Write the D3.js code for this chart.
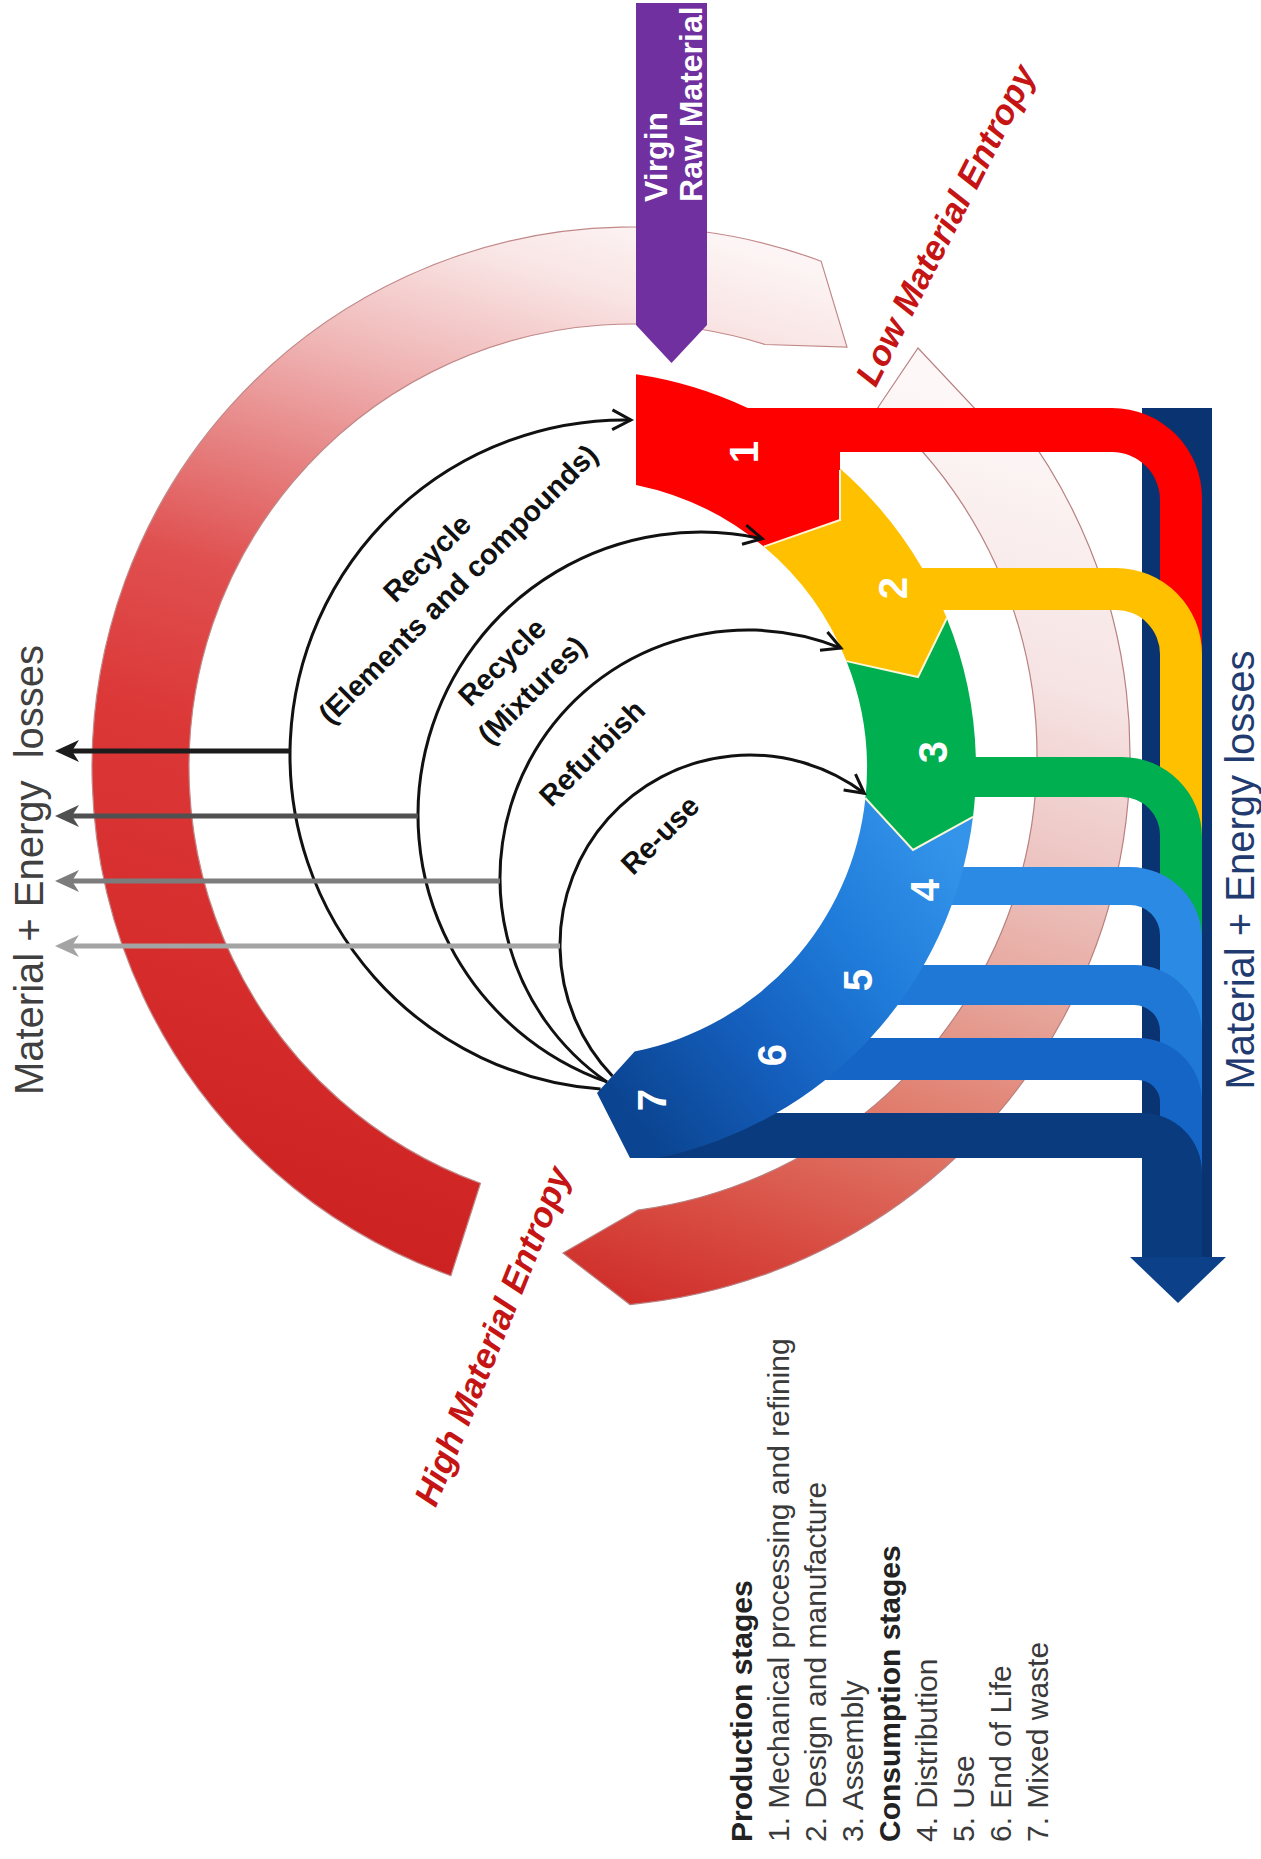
<!DOCTYPE html>
<html>
<head>
<meta charset="utf-8">
<title>Material entropy cycle</title>
<script src="https://d3js.org/d3.v7.min.js"></script>
<style>
  html,body{margin:0;padding:0;background:#fff;}
  svg{display:block;}
</style>
</head>
<body>
<svg id="chart" width="1261" height="1859" viewBox="0 0 1261 1859"></svg>
<script>
// ---------------- DATA ----------------
const stageNumbers = ["1","2","3","4","5","6","7"];
const productionStages = ["Mechanical processing and refining","Design and manufacture","Assembly"];
const consumptionStages = ["Distribution","Use","End of Life","Mixed waste"];
const stageGroups = ["Production stages","Consumption stages"];
const loopLabels = [["Recycle","(Elements and compounds)"],["Recycle","(Mixtures)"],["Refurbish"],["Re-use"]];
const lossLabels = ["Material + Energy  losses","Material + Energy losses"];
const entropyLabels = ["Low Material Entropy","High Material Entropy"];
const sourceLabel = ["Virgin","Raw Material"];

// ---------------- STYLE ----------------
const FONT = "'Liberation Sans', Arial, Helvetica, sans-serif";
const stageColors = ["#ff0000","#ffc000","#00b050","#2b8ae4","#1f78d6","#1565c6","#0a3b7e"];
const lossColors = ["#1c1c1c","#505050","#7c7c7c","#a4a4a4"];
const entropyColor = "#c41414";

// ---------------- LAYOUT ----------------
const svg = d3.select("#chart").attr("font-family", FONT);
const defs = svg.append("defs");
const deg = d3.scaleLinear().domain([0,180]).range([0,Math.PI]);
const C = {x:578, y:768}, Ri = 289, Ro = 398;              // stage ring
const P = (r,a) => [C.x + r*Math.cos(deg(a)), C.y + r*Math.sin(deg(a))];
const angY = (r,y) => Math.asin((y-C.y)/r)*180/Math.PI;
const angX = (r,x) => -Math.acos((x-C.x)/r)*180/Math.PI;
const VX0 = 1160, VX1 = 1202, V7X0 = 1142, YEND = 1257;   // vertical channel
const bars = [
  {y0:408,  y1:452,  ro:90},
  {y0:568,  y1:610,  ro:86},
  {y0:757,  y1:797,  ro:80},
  {y0:867,  y1:905,  ro:72, x:905},
  {y0:965,  y1:1005, ro:68, x:855},
  {y0:1038, y1:1080, ro:64, x:785},
  {y0:1113, y1:1158, ro:60, x:645}
];

// gradients
function linGrad(id, x1,y1,x2,y2, stops){
  const g = defs.append("linearGradient").attr("id",id).attr("gradientUnits","userSpaceOnUse")
    .attr("x1",x1).attr("y1",y1).attr("x2",x2).attr("y2",y2);
  stops.forEach(s => g.append("stop").attr("offset",s[0]).attr("stop-color",s[1]));
}
linGrad("ringA", 760,250, 450,1270, [[0,"#fdf5f5"],[0.08,"#f9e4e4"],[0.2,"#f0b6b6"],[0.32,"#e68080"],[0.43,"#e05050"],[0.58,"#dc3838"],[0.8,"#d62c2c"],[1,"#cc2222"]]);
linGrad("ringB", 900,380, 600,1300, [[0,"#fdf7f7"],[0.25,"#f6e3e3"],[0.42,"#edc6c3"],[0.58,"#e6a398"],[0.72,"#e07c6c"],[0.88,"#d84c42"],[1,"#cf2c28"]]);
linGrad("blueRing", 960,850, 630,1110, [[0,"#3494ea"],[0.35,"#1f7bd9"],[0.65,"#1560bf"],[1,"#0b4592"]]);

// ---------------- ENTROPY RINGS ----------------
const A = {x:632, y:767}, rAi = 443, rAo = 540;
const PA = (r,a) => [A.x + r*Math.cos(deg(a)), A.y + r*Math.sin(deg(a))];
let p = d3.path();
p.moveTo(...PA(rAo,109.6));
p.arc(A.x, A.y, rAo, deg(109.6), deg(290.5), false);
p.lineTo(847,347);
p.lineTo(...PA(rAi,287.5));
p.arc(A.x, A.y, rAi, deg(287.5), deg(110), true);
p.closePath();
svg.append("path").attr("d",p.toString()).attr("fill","url(#ringA)").attr("stroke","#c28888").attr("stroke-width",1.2);

const B = {x:578, y:755}, rBi = 459, rBo = 552;
const PB = (r,a) => [B.x + r*Math.cos(deg(a)), B.y + r*Math.sin(deg(a))];
p = d3.path();
p.moveTo(...PB(rBi,82.5));
p.lineTo(563,1253);
p.lineTo(...PB(rBo,84.6));
p.arc(B.x, B.y, rBo, deg(84.6), deg(-37), true);
p.lineTo(978,412);
p.lineTo(918,348);
p.lineTo(...PB(rBi,-49.2));
p.arc(B.x, B.y, rBi, deg(-49.2), deg(82.5), false);
p.closePath();
svg.append("path").attr("d",p.toString()).attr("fill","url(#ringB)").attr("stroke","#b88080").attr("stroke-width",1.2);

// ---------------- VIRGIN RAW MATERIAL ARROW ----------------
svg.append("path").attr("d","M636,3H707V325L671.5,363L636,325Z").attr("fill","#7030a0");
sourceLabel.forEach((t,i) => {
  svg.append("text").attr("transform",`translate(${[667,702][i]},202) rotate(-90)`)
    .attr("font-size",32).attr("font-weight","bold").attr("fill","#fff").text(t);
});

// ---------------- OUTPUT CHANNEL ----------------
svg.append("rect").attr("x",V7X0).attr("y",408).attr("width",1212-V7X0).attr("height",YEND-408).attr("fill","#0a3371");
svg.append("path").attr("d",`M1130,${YEND}H1226L1178,1303Z`).attr("fill","#0c418a");

// ---------------- STAGE BLOCKS + BARS ----------------
function tail(p, b, vx0, ri, xBack){
  p.arcTo(VX1, b.y0, VX1, YEND, b.ro);
  p.lineTo(VX1, YEND);
  p.lineTo(vx0, YEND);
  if (ri > 0) p.arcTo(vx0, b.y1, xBack, b.y1, ri); else p.lineTo(vx0, b.y1);
}
// stage 1 (red)
p = d3.path();
const aLo = angX(Ro,636), aLi = angX(Ri,636);
p.moveTo(...P(Ro,aLo));
p.arc(C.x,C.y,Ro,deg(aLo),deg(angY(Ro,bars[0].y0)),false);
tail(p, bars[0], VX0, bars[0].ro-(VX1-VX0), 840);
p.lineTo(840,bars[0].y1); p.lineTo(840,520);
p.lineTo(...P(Ri,-50));
p.arc(C.x,C.y,Ri,deg(-50),deg(aLi),true);
p.closePath();
svg.append("path").attr("d",p.toString()).attr("fill",stageColors[0]);

// stage 2 (yellow)
p = d3.path();
const a2 = angX(Ro,840);
p.moveTo(...P(Ro,a2));
p.arc(C.x,C.y,Ro,deg(a2),deg(angY(Ro,bars[1].y0)),false);
tail(p, bars[1], VX0, bars[1].ro-(VX1-VX0), 900);
p.lineTo(...P(Ro,angY(Ro,bars[1].y1)));
p.arc(C.x,C.y,Ro,deg(angY(Ro,bars[1].y1)),deg(-22.1),false);
p.lineTo(918,677);
p.lineTo(...P(Ri,-21.7));
p.arc(C.x,C.y,Ri,deg(-21.7),deg(-50),true);
p.lineTo(840,520);
p.closePath();
svg.append("path").attr("d",p.toString()).attr("fill",stageColors[1]);

// stage 3 (green)
p = d3.path();
p.moveTo(...P(Ro,-22.1));
p.arc(C.x,C.y,Ro,deg(-22.1),deg(angY(Ro,bars[2].y0)),false);
tail(p, bars[2], VX0, bars[2].ro-(VX1-VX0), 900);
p.lineTo(...P(Ro,angY(Ro,bars[2].y1)));
p.arc(C.x,C.y,Ro,deg(angY(Ro,bars[2].y1)),deg(7.07),false);
p.lineTo(913,850);
p.lineTo(...P(Ri,6));
p.arc(C.x,C.y,Ri,deg(6),deg(-21.7),true);
p.lineTo(918,677);
p.closePath();
svg.append("path").attr("d",p.toString()).attr("fill",stageColors[2]);

// bars 4-7
bars.slice(3).forEach((b,i) => {
  const k = i+3;
  const vx0 = k === 6 ? V7X0 : VX0;
  const ri = k === 6 ? 0 : b.ro-(VX1-VX0);
  const q = d3.path();
  q.moveTo(b.x, b.y0);
  tail(q, b, vx0, ri, b.x);
  q.lineTo(b.x, b.y1);
  q.closePath();
  svg.append("path").attr("d",q.toString()).attr("fill",stageColors[k]);
});

// stages 4-7 (blue ring segment)
p = d3.path();
const T2 = P(Ri,78.7), T1 = [597,1093];
p.moveTo(...P(Ri,6));
p.lineTo(913,850);
p.lineTo(...P(Ro,7.07));
p.arc(C.x,C.y,Ro,deg(7.07),deg(angY(Ro,1158)),false);
p.lineTo(630,1158);
p.lineTo(...T1);
p.lineTo(...T2);
p.arc(C.x,C.y,Ri,deg(78.7),deg(6),true);
p.closePath();
svg.append("path").attr("d",p.toString()).attr("fill","url(#blueRing)");

// light seams between stages
const seam = d3.line();
[[P(Ri,-50),[840,520],[840,470]],[P(Ri,-21.7),[918,677],P(Ro,-22.1)],[P(Ri,6),[913,850],P(Ro,7.07)]]
  .forEach(s => svg.append("path").attr("d",seam(s)).attr("fill","none").attr("stroke","#fbf7d6").attr("stroke-width",2));

// stage numbers
const numPos = [[744,452],[893,588],[933,752],[925,890],[858,980],[772,1055],[652,1100]];
stageNumbers.forEach((n,i) => {
  svg.append("text").attr("transform",`translate(${numPos[i][0]},${numPos[i][1]}) rotate(-90)`)
    .attr("text-anchor","middle").attr("dominant-baseline","central")
    .attr("font-size",40).attr("font-weight","bold").attr("fill","#fff").text(n);
});

// ---------------- RECYCLE LOOPS ----------------
const loops = [
  {cx:625, cy:755, r:335, a1:271},
  {cx:701, cy:815, r:283, a1:282.5},
  {cx:748, cy:878, r:248, a1:292},
  {cx:750, cy:945, r:190, a1:307}
];
const side = pt => (T2[0]-T1[0])*(pt[1]-T1[1]) - (T2[1]-T1[1])*(pt[0]-T1[0]);
const lossY = d3.scalePoint().domain(d3.range(loops.length)).range([751,946]);
loops.forEach((L,i) => {
  const pt = a => [L.cx + L.r*Math.cos(deg(a)), L.cy + L.r*Math.sin(deg(a))];
  let lo = 85, hi = 180;
  for (let k=0;k<40;k++){ const m=(lo+hi)/2; if (side(pt(m))>0) lo=m; else hi=m; }
  const q = d3.path();
  q.moveTo(...pt(hi));
  q.arc(L.cx, L.cy, L.r, deg(hi), deg(L.a1), false);
  svg.append("path").attr("d",q.toString()).attr("fill","none").attr("stroke","#111").attr("stroke-width",3);
  // open arrowhead
  const E = pt(L.a1), f = [-Math.sin(deg(L.a1)), Math.cos(deg(L.a1))];
  const wing = s => { const c=Math.cos(deg(28*s)), sn=Math.sin(deg(28*s));
    const v=[f[0]*c - f[1]*sn, f[0]*sn + f[1]*c]; return [E[0]-21*v[0], E[1]-21*v[1]]; };
  svg.append("path").attr("d",d3.line()([wing(1),E,wing(-1)])).attr("fill","none")
    .attr("stroke","#111").attr("stroke-width",3).attr("stroke-linejoin","miter");
  // loss arrow
  const y = lossY(i);
  const xs = L.cx - Math.sqrt(L.r*L.r - (y-L.cy)*(y-L.cy));
  svg.append("line").attr("x1",xs).attr("y1",y).attr("x2",72).attr("y2",y)
    .attr("stroke",lossColors[i]).attr("stroke-width",5);
  svg.append("path").attr("d",`M55,${y}L79,${y-11}L72,${y}L79,${y+11}Z`).attr("fill",lossColors[i]);
});

// loop labels
const loopPos = [[[427,558],[458,584]],[[502,662],[532,690]],[[592,753]],[[660,835]]];
loopLabels.forEach((lines,i) => lines.forEach((t,j) => {
  svg.append("text").attr("transform",`translate(${loopPos[i][j][0]},${loopPos[i][j][1]}) rotate(-45)`)
    .attr("text-anchor","middle").attr("dominant-baseline","central")
    .attr("font-size",29).attr("font-weight","bold").attr("fill","#111").text(t);
}));

// ---------------- LABELS ----------------
svg.append("text").attr("transform","translate(43,870) rotate(-90)").attr("text-anchor","middle")
  .attr("font-size",40).attr("fill","#404040").style("white-space","pre").text(lossLabels[0]);
svg.append("text").attr("transform","translate(1254,870) rotate(-90)").attr("text-anchor","middle")
  .attr("font-size",40).attr("fill","#1f3b70").style("white-space","pre").text(lossLabels[1]);

[[945,225,-63],[492,1336,-68]].forEach((q,i) => {
  svg.append("text").attr("transform",`translate(${q[0]},${q[1]}) rotate(${q[2]})`)
    .attr("text-anchor","middle").attr("dominant-baseline","central")
    .attr("font-size",35).attr("font-weight","bold").attr("font-style","italic")
    .attr("fill",entropyColor).text(entropyLabels[i]);
});

// ---------------- LEGEND ----------------
const legendRows = [
  {t:stageGroups[0], b:true},
  ...productionStages.map((s,i) => ({t:`${stageNumbers[i]}. ${s}`})),
  {t:stageGroups[1], b:true},
  ...consumptionStages.map((s,i) => ({t:`${stageNumbers[i+3]}. ${s}`}))
];
const rowX = d3.scalePoint().domain(d3.range(legendRows.length)).range([752,1048]);
legendRows.forEach((r,i) => {
  svg.append("text").attr("transform",`translate(${rowX(i)},1842) rotate(-90)`)
    .attr("font-size",30).attr("font-weight",r.b?"bold":"normal")
    .attr("fill",r.b?"#222":"#3a3a3a").text(r.t);
});
</script>
</body>
</html>
